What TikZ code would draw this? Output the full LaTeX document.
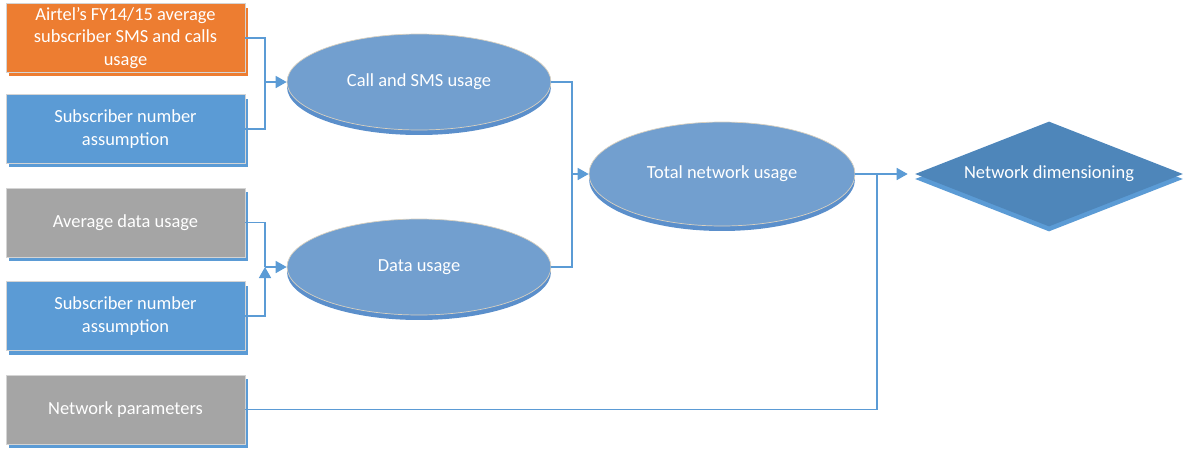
\documentclass[tikz,border=0pt]{standalone}
\usepackage{fontspec}
\setmainfont{Carlito}
\usetikzlibrary{shapes.geometric,shadows,arrows.meta}
\definecolor{borange}{HTML}{ED7D31}
\definecolor{bblue}{HTML}{5B9BD5}
\definecolor{bgray}{HTML}{A5A5A5}
\definecolor{ellfill}{HTML}{729FCF}
\definecolor{ellshadow}{HTML}{5B8FCB}
\definecolor{diafill}{HTML}{4E86BA}
\definecolor{edgegray}{HTML}{D4D4D4}
\definecolor{ellborder}{HTML}{D8D0C0}
\begin{document}
\begin{tikzpicture}[x=0.02cm,y=-0.02cm,
  txt/.style={text=white,font=\fontsize{10.5}{12.9}\selectfont,align=center},
  box/.style={txt,rectangle,draw=edgegray,line width=0.5pt,minimum width=4.78cm,minimum height=1.38cm,inner sep=0pt},
  boxo/.style={box,fill=borange,general shadow={fill=borange,shadow xshift=0.06cm,shadow yshift=-0.08cm}},
  boxb/.style={box,fill=bblue,general shadow={fill=bblue,shadow xshift=0.06cm,shadow yshift=-0.08cm}},
  boxg/.style={box,fill=bgray,general shadow={fill=bblue,shadow xshift=0.06cm,shadow yshift=-0.08cm}},
  ell/.style={txt,ellipse,fill=ellfill,draw=ellborder,line width=0.4pt,inner sep=0pt,general shadow={fill=ellshadow,shadow xshift=0cm,shadow yshift=-0.1cm}},
  dia/.style={txt,diamond,aspect=2.55,fill=diafill,inner sep=0pt,minimum width=5.36cm,minimum height=2.1cm,general shadow={fill=bblue,shadow xshift=0cm,shadow yshift=-0.1cm}},
  conn/.style={draw=bblue,line width=0.9pt},
  arr/.style={conn,-{Triangle[length=0.22cm,width=0.24cm]}}
]
\useasboundingbox (0,0) rectangle (1185,450);

\node[boxo] (b1) at (125.5,38) {Airtel’s FY14/15 average\\subscriber SMS and calls\\usage};
\node[boxb] (b2) at (125.5,129) {Subscriber number\\assumption};
\node[boxg] (b3) at (125.5,222.5) {Average data usage};
\node[boxb] (b4) at (125.5,316) {Subscriber number\\assumption};
\node[boxg] (b5) at (125.5,409.5) {Network parameters};

\node[ell,minimum width=5.28cm,minimum height=1.92cm] (e1) at (419,82) {Call and SMS usage};
\node[ell,minimum width=5.28cm,minimum height=1.92cm] (e2) at (419,267) {Data usage};
\node[ell,minimum width=5.32cm,minimum height=2.08cm] (e3) at (722,174) {Total network usage};

\node[dia] (d) at (1049,174) {Network dimensioning};

\coordinate (j1) at (265,82);
\coordinate (j2) at (265,267);
\coordinate (j3) at (572,174);
\coordinate (j4) at (877,174);

\draw[conn] (b1.east) -| (j1);
\draw[conn] (b2.east) -| (j1);
\draw[arr] (j1) -- (e1.west);

\draw[conn] (b3.east) -| (j2);
\draw[arr] (b4.east) -| (j2);
\draw[arr] (j2) -- (e2.west);

\draw[conn] (e1.east) -| (j3);
\draw[conn] (e2.east) -| (j3);
\draw[arr] (j3) -- (e3.west);

\draw[arr,shorten >=0.14cm] (e3.east) -- (d.west);
\draw[conn] (b5.east) -| (j4);
\end{tikzpicture}
\end{document}
